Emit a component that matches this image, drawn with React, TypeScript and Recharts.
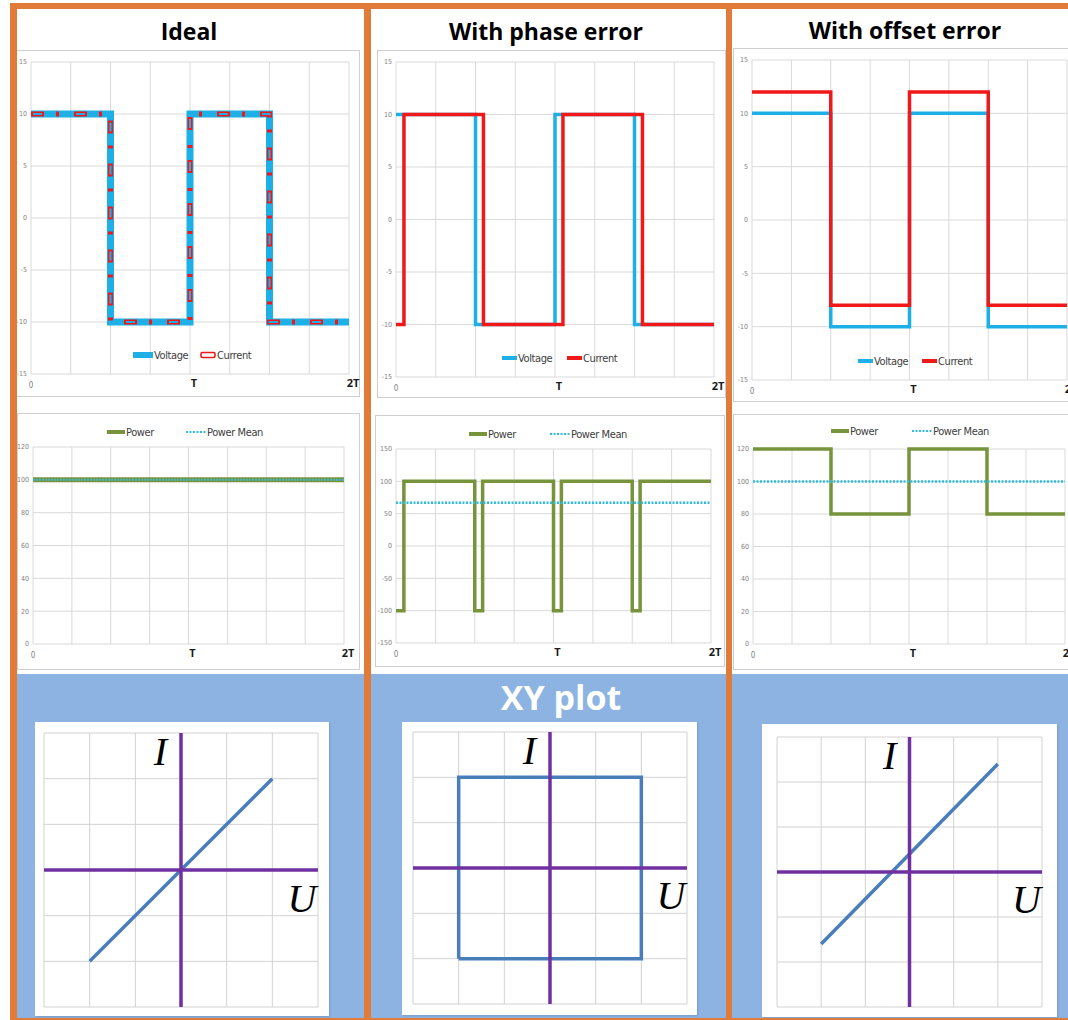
import React from 'react';
import { LineChart, Line, XAxis, YAxis, CartesianGrid, ReferenceLine, ReferenceDot } from 'recharts';

// time axis: one period T = 100, two periods shown, grid every T/4
const timeTicks = [0, 25, 50, 75, 100, 125, 150, 175, 200];
const timeTickLabels = ['0', '', '', '', 'T', '', '', '', '2T'];

const waveTicks = [-15, -10, -5, 0, 5, 10, 15];
const powerTicks = [0, 20, 40, 60, 80, 100, 120];
const phasePowerTicks = [-150, -100, -50, 0, 50, 100, 150];
const meanT = [0, 200];

// ideal
const idealT = [0, 50, 100, 150, 200];
const idealVoltage = [10, -10, 10, -10, -10];
const idealCurrent = [10, -10, 10, -10, -10];
const idealPowerT = [0, 200];
const idealPower = [100, 100];
const idealPowerMean = [100, 100];

// with phase error
const phaseVoltageT = [0, 50, 100, 150, 200];
const phaseVoltage = [10, -10, 10, -10, -10];
const phaseCurrentT = [0, 5, 55, 105, 155, 200];
const phaseCurrent = [-10, 10, -10, 10, -10, -10];
const phasePowerT = [0, 5, 50, 55, 100, 105, 150, 155, 200];
const phasePower = [-100, 100, -100, 100, -100, 100, -100, 100, 100];
const phasePowerMean = [67, 67];

// with offset error
const offsetT = [0, 50, 100, 150, 200];
const offsetVoltage = [10, -10, 10, -10, -10];
const offsetCurrent = [12, -8, 12, -8, -8];
const offsetPower = [120, 80, 120, 80, 80];
const offsetPowerMean = [100, 100];

// XY traces, in grid units
const xyTicks = [-3, -2, -1, 0, 1, 2, 3];
const idealU = [-2, 2];
const idealI = [-2, 2];
const phaseU = [-2, -2, 2, 2, -2];
const phaseI = [-2, 2, 2, -2, -2];
const offsetU = [-2, 2];
const offsetI = [-1.6, 2.4];

const ORANGE = '#E07B39';
const SKY = '#8DB3E2';
const VOLT = '#1EAFE6';
const CURR = '#F01818';
const POWER = '#77933C';
const MEAN = '#2DBDE0';
const GRID = '#D9D9D9';
const NARROW = "'DejaVu Sans Condensed', 'Liberation Sans Narrow', 'Roboto Condensed', 'Open Sans', sans-serif";

type Pt = { t: number; v: number };
const pts = (ts: number[], vs: number[]): Pt[] => ts.map((t, k) => ({ t, v: vs[k] }));

interface Trace {
  key: string;
  data: Pt[];
  color: string;
  width: number;
  dash?: string;
  type?: 'stepAfter' | 'linear';
}

interface Box { left: number; top: number; width: number; height: number }

interface Swatch { kind: 'volt' | 'voltThick' | 'curr' | 'currHollow' | 'power' | 'mean'; left: number; label: string }

function SwatchIcon({ kind }: { kind: Swatch['kind'] }) {
  if (kind === 'currHollow') {
    return (
      <svg width={16} height={8}><rect x={1} y={1.5} width={14} height={5} rx={1.5} fill="#fff" stroke={CURR} strokeWidth={1.6} /></svg>
    );
  }
  if (kind === 'mean') {
    return (
      <svg width={20} height={8}><line x1={0} y1={4} x2={20} y2={4} stroke={MEAN} strokeWidth={2} strokeDasharray="2 1.5" /></svg>
    );
  }
  const w = kind === 'voltThick' ? 20 : kind === 'power' ? 18 : 15;
  const sw = kind === 'voltThick' ? 6 : 4;
  const c = kind === 'curr' ? CURR : kind === 'power' ? POWER : VOLT;
  return (
    <svg width={w} height={8}><line x1={0} y1={4} x2={w} y2={4} stroke={c} strokeWidth={sw} /></svg>
  );
}

function LegendRow({ items, y }: { items: Swatch[]; y: number }) {
  return (
    <>
      {items.map((it) => (
        <div
          key={it.label}
          style={{
            position: 'absolute', left: it.left, top: y - 8, height: 16, display: 'flex', alignItems: 'center',
            fontFamily: NARROW, fontStretch: 'condensed', fontSize: 11, letterSpacing: -0.4, color: '#404040', whiteSpace: 'nowrap',
          }}
        >
          <SwatchIcon kind={it.kind} />
          <span style={{ marginLeft: 1 }}>{it.label}</span>
        </div>
      ))}
    </>
  );
}

const TimeTick = (props: any) => {
  const { x, y, index } = props;
  const label = timeTickLabels[index] ?? '';
  if (!label) return <g />;
  if (label === '0') {
    return (
      <text x={x} y={y + 12} textAnchor="middle" fontSize={8} fill="#7F7F7F" fontFamily={NARROW}>{label}</text>
    );
  }
  return (
    <text x={x + 4} y={y + 11} textAnchor="middle" fontSize={11} fontWeight="bold" fill="#1a1a1a" fontFamily="'Open Sans', sans-serif">{label}</text>
  );
};

interface SignalProps {
  box: Box;
  margin: { top: number; right: number; left: number; bottom: number };
  yWidth: number;
  xHeight: number;
  yTicks: number[];
  traces: Trace[];
}

function SignalChart({ box, margin, yWidth, xHeight, yTicks, traces }: SignalProps) {
  return (
    <div style={{ position: 'absolute', ...box, background: '#fff' }}>
      <div style={{ position: 'absolute', inset: 0, border: '1px solid #CFCFCF' }} />
      <LineChart width={box.width} height={box.height} margin={margin} style={{ position: 'absolute', left: 0, top: 0 }}>
        <CartesianGrid stroke={GRID} strokeWidth={1} />
        <XAxis
          type="number" dataKey="t" domain={[0, 200]} ticks={timeTicks} interval={0}
          height={xHeight} tickLine={false} axisLine={false} tickSize={0} tick={<TimeTick />}
        />
        <YAxis
          type="number" dataKey="v" domain={[yTicks[0], yTicks[yTicks.length - 1]]} ticks={yTicks} interval={0}
          width={yWidth} tickLine={false} axisLine={false} tickSize={0} tickMargin={4}
          tick={{ fontSize: 7, fill: '#7F7F7F', fontFamily: NARROW }}
        />
        {traces.map((tr) => (
          <Line
            key={tr.key} data={tr.data} dataKey="v" type={tr.type ?? 'stepAfter'}
            stroke={tr.color} strokeWidth={tr.width} strokeDasharray={tr.dash}
            dot={false} activeDot={false} isAnimationActive={false}
          />
        ))}
      </LineChart>
    </div>
  );
}

function XYChart({ box, margin, u, i }: { box: Box; margin: SignalProps['margin']; u: number[]; i: number[] }) {
  const data = u.map((x, k) => ({ u: x, i: i[k] }));
  const letter = { fill: '#000', fontSize: 40, fontStyle: 'italic', fontFamily: "'Liberation Serif', serif" };
  return (
    <div style={{ position: 'absolute', ...box, background: '#fff', boxShadow: '1px 1px 2px rgba(0,0,0,0.15)' }}>
      <LineChart width={box.width} height={box.height} data={data} margin={margin}>
        <CartesianGrid stroke="#D2D2D2" />
        <XAxis type="number" dataKey="u" domain={[-3, 3]} ticks={xyTicks} hide />
        <YAxis type="number" dataKey="i" domain={[-3, 3]} ticks={xyTicks} hide />
        <Line dataKey="i" type="linear" stroke="#4A7EBB" strokeWidth={3.5} dot={false} activeDot={false} isAnimationActive={false} />
        <ReferenceLine x={0} stroke="#7030A0" strokeWidth={3.5} />
        <ReferenceLine y={0} stroke="#7030A0" strokeWidth={3.5} />
        <ReferenceDot x={-0.45} y={2.6} r={1} fill="none" stroke="none" label={{ value: 'I', position: 'center', ...letter }} />
        <ReferenceDot x={2.65} y={-0.6} r={1} fill="none" stroke="none" label={{ value: 'U', position: 'center', ...letter }} />
      </LineChart>
    </div>
  );
}

function Title({ text, cx, cy, size, color }: { text: string; cx: number; cy: number; size: number; color: string }) {
  return (
    <div
      style={{
        position: 'absolute', left: cx - 160, width: 320, top: cy - size * 0.7, lineHeight: `${size * 1.4}px`,
        textAlign: 'center', fontFamily: "'Open Sans', sans-serif", fontWeight: 700, fontSize: size, color,
      }}
    >
      {text}
    </div>
  );
}

export default function App() {
  return (
    <div style={{ position: 'absolute', left: 0, top: 0, width: 1068, height: 1020, overflow: 'hidden', background: '#fff' }}>
      {/* XY plot band */}
      <div style={{ position: 'absolute', left: 17, top: 674, width: 1051, height: 344, background: SKY }} />

      <Title text="Ideal" cx={189} cy={31} size={23} color="#000" />
      <Title text="With phase error" cx={546} cy={31} size={23} color="#000" />
      <Title text="With offset error" cx={905} cy={30} size={23} color="#000" />
      <Title text="XY plot" cx={561} cy={698} size={34} color="#fff" />

      {/* voltage and current */}
      <SignalChart
        box={{ left: 16, top: 50, width: 344, height: 347 }}
        margin={{ top: 12, right: 11, left: 0, bottom: 0 }} yWidth={15} xHeight={23} yTicks={waveTicks}
        traces={[
          { key: 'v', data: pts(idealT, idealVoltage), color: VOLT, width: 7 },
          { key: 'i', data: pts(idealT, idealCurrent), color: CURR, width: 5, dash: '13 12 3 15' },
          { key: 'i2', data: pts(idealT, idealCurrent), color: VOLT, width: 2, dash: '0 2 9 32' },
        ]}
      />
      <LegendRow y={355} items={[{ kind: 'voltThick', left: 133, label: 'Voltage' }, { kind: 'currHollow', left: 200, label: 'Current' }]} />

      <SignalChart
        box={{ left: 377, top: 50, width: 349, height: 348 }}
        margin={{ top: 12, right: 12, left: 0, bottom: 0 }} yWidth={19} xHeight={21} yTicks={waveTicks}
        traces={[
          { key: 'v', data: pts(phaseVoltageT, phaseVoltage), color: VOLT, width: 3.5 },
          { key: 'i', data: pts(phaseCurrentT, phaseCurrent), color: CURR, width: 3.5 },
        ]}
      />
      <LegendRow y={358} items={[{ kind: 'volt', left: 502, label: 'Voltage' }, { kind: 'curr', left: 567, label: 'Current' }]} />

      <SignalChart
        box={{ left: 733, top: 48, width: 352, height: 354 }}
        margin={{ top: 12, right: 18, left: 0, bottom: 0 }} yWidth={19} xHeight={22} yTicks={waveTicks}
        traces={[
          { key: 'v', data: pts(offsetT, offsetVoltage), color: VOLT, width: 3.5 },
          { key: 'i', data: pts(offsetT, offsetCurrent), color: CURR, width: 3.5 },
        ]}
      />
      <LegendRow y={361} items={[{ kind: 'volt', left: 858, label: 'Voltage' }, { kind: 'curr', left: 922, label: 'Current' }]} />

      {/* instantaneous power */}
      <SignalChart
        box={{ left: 17, top: 413, width: 343, height: 257 }}
        margin={{ top: 34, right: 16, left: 0, bottom: 0 }} yWidth={16} xHeight={26} yTicks={powerTicks}
        traces={[
          { key: 'p', data: pts(idealPowerT, idealPower), color: POWER, width: 5 },
          { key: 'm', data: pts(meanT, idealPowerMean), color: '#3FB8C8', width: 2, dash: '2 1', type: 'linear' },
        ]}
      />
      <LegendRow y={432} items={[{ kind: 'power', left: 107, label: 'Power' }, { kind: 'mean', left: 186, label: 'Power Mean' }]} />

      <SignalChart
        box={{ left: 375, top: 415, width: 350, height: 252 }}
        margin={{ top: 34, right: 14, left: 0, bottom: 0 }} yWidth={21} xHeight={24} yTicks={phasePowerTicks}
        traces={[
          { key: 'p', data: pts(phasePowerT, phasePower), color: POWER, width: 3.5 },
          { key: 'm', data: pts(meanT, phasePowerMean), color: MEAN, width: 2.5, dash: '2 1.5', type: 'linear' },
        ]}
      />
      <LegendRow y={434} items={[{ kind: 'power', left: 469, label: 'Power' }, { kind: 'mean', left: 550, label: 'Power Mean' }]} />

      <SignalChart
        box={{ left: 733, top: 414, width: 352, height: 256 }}
        margin={{ top: 35, right: 20, left: 0, bottom: 0 }} yWidth={20} xHeight={26} yTicks={powerTicks}
        traces={[
          { key: 'p', data: pts(offsetT, offsetPower), color: POWER, width: 3.5 },
          { key: 'm', data: pts(meanT, offsetPowerMean), color: MEAN, width: 2.5, dash: '2 1.5', type: 'linear' },
        ]}
      />
      <LegendRow y={431} items={[{ kind: 'power', left: 831, label: 'Power' }, { kind: 'mean', left: 912, label: 'Power Mean' }]} />

      {/* U-I loci */}
      <XYChart box={{ left: 35, top: 722, width: 294, height: 294 }} margin={{ top: 11, right: 11, left: 9, bottom: 9 }} u={idealU} i={idealI} />
      <XYChart box={{ left: 402, top: 722, width: 295, height: 293 }} margin={{ top: 10, right: 10, left: 11, bottom: 11 }} u={phaseU} i={phaseI} />
      <XYChart box={{ left: 762, top: 724, width: 295, height: 293 }} margin={{ top: 13, right: 15, left: 15, bottom: 10 }} u={offsetU} i={offsetI} />

      {/* orange frame */}
      <div style={{ position: 'absolute', left: 10, top: 3, width: 1058, height: 6, background: ORANGE }} />
      <div style={{ position: 'absolute', left: 10, top: 3, width: 7, height: 1017, background: ORANGE }} />
      <div style={{ position: 'absolute', left: 364, top: 3, width: 7, height: 1017, background: ORANGE }} />
      <div style={{ position: 'absolute', left: 726, top: 3, width: 6, height: 1017, background: ORANGE }} />
      <div style={{ position: 'absolute', left: 10, top: 1018, width: 1058, height: 2, background: ORANGE }} />
    </div>
  );
}
